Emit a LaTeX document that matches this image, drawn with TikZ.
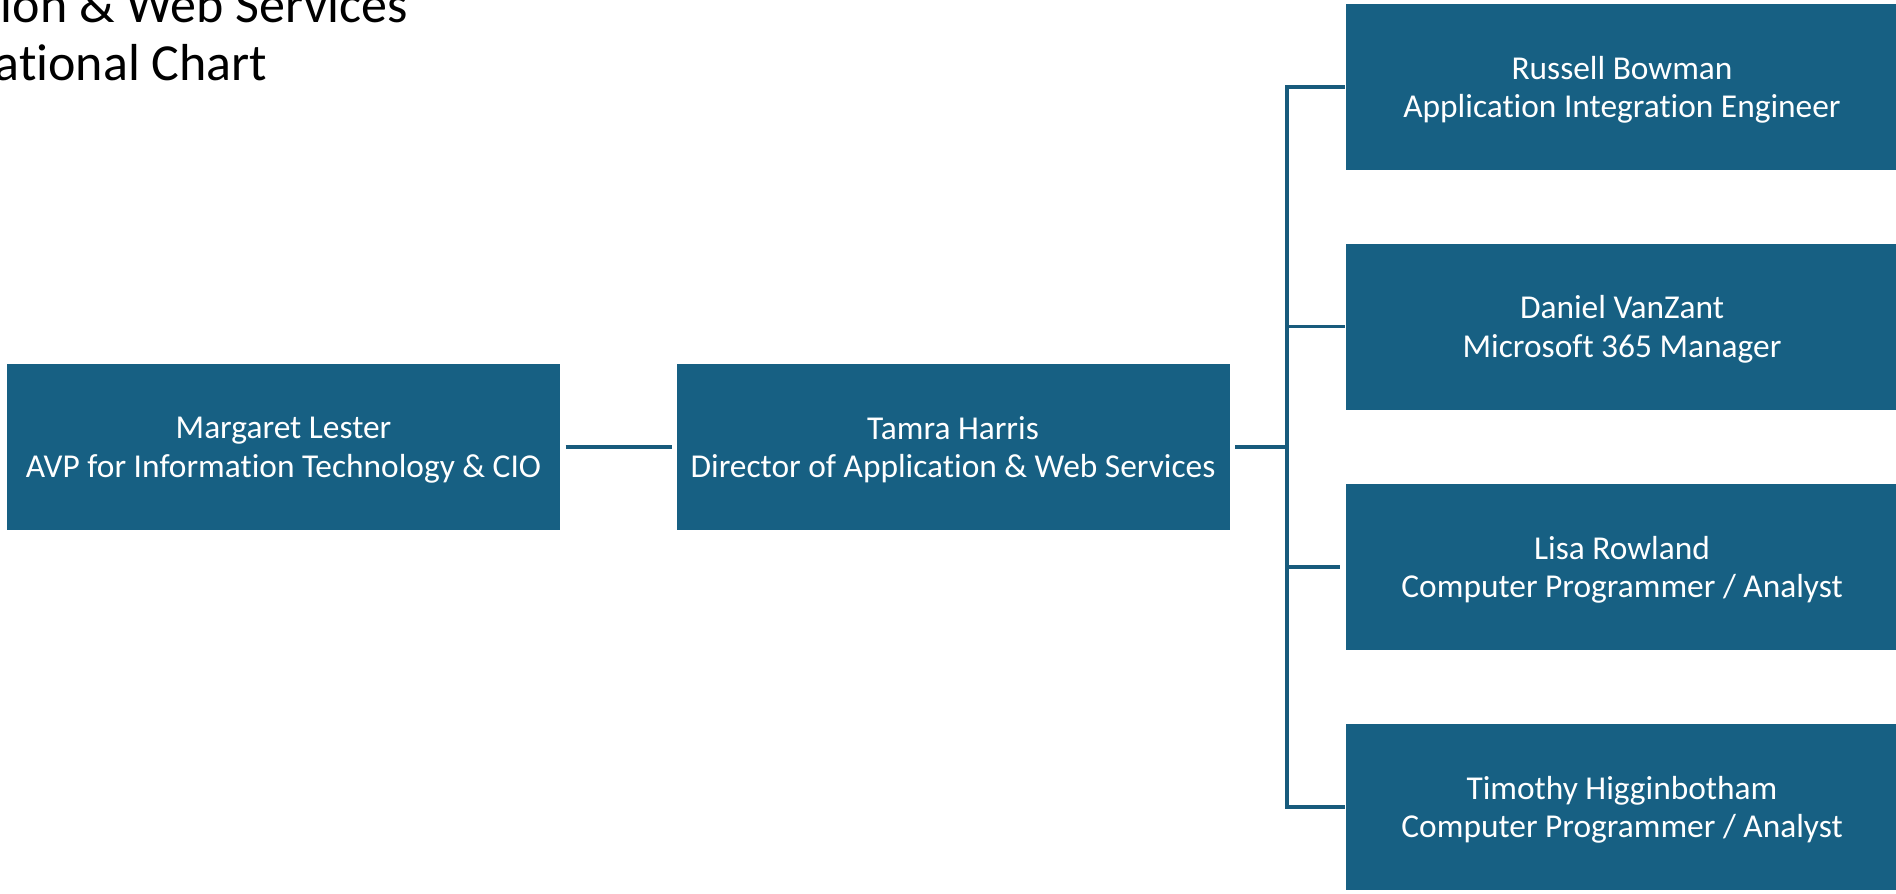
\documentclass[tikz,border=0pt]{standalone}
\usepackage{fontspec}
\setmainfont{Carlito}[Ligatures=NoCommon]
\usepackage{tikz}
\usetikzlibrary{positioning}
\definecolor{boxblue}{HTML}{176083}
\definecolor{linkblue}{HTML}{185B7C}

\begin{document}
\begin{tikzpicture}[x=0.1mm, y=-0.1mm,
    person/.style={fill=boxblue, text=white, align=center, minimum width=55.3mm, minimum height=16.6mm, inner sep=0pt, text depth=0pt, font=\fontsize{9.5}{11}\selectfont},
    heading/.style={anchor=base west, inner sep=0pt, font=\fontsize{14.8}{17}\selectfont},
    link/.style={draw=linkblue, line width=1.1pt}]
                \useasboundingbox (0,0) rectangle (1896,893);
                \node [heading] (title1) at (0,22) {ion \& Web Services};
                \node [heading] (title2) at (-6,80) {ational Chart};
                \node [person] (lester) at (283.5,447) {Margaret Lester\\AVP for Information Technology \& CIO};
                \node [person] (harris) at (953,447) {Tamra Harris\\Director of Application \& Web Services};
                \node [person] (bowman) at (1622,87) {Russell Bowman\\Application Integration Engineer};
                \node [person] (vanzant) at (1622,326.5) {Daniel VanZant\\Microsoft 365 Manager};
                \node [person] (rowland) at (1622,567) {Lisa Rowland\\Computer Programmer / Analyst};
                \node [person] (higgin) at (1622,807) {Timothy Higginbotham\\Computer Programmer / Analyst};
                \coordinate (bus) at (1287,447);
                \draw [link, shorten <=0.5mm, shorten >=0.4mm] (lester) -- (harris);
                \draw [link, shorten <=0.5mm] (harris.east) -- (bus);
                \draw [link, shorten <=0.5mm] (bowman.west) -| (bus) (higgin.west) -| (bus) (vanzant.west) -| (bus) (rowland.west) -| (bus);
            \end{tikzpicture}
\end{document}
